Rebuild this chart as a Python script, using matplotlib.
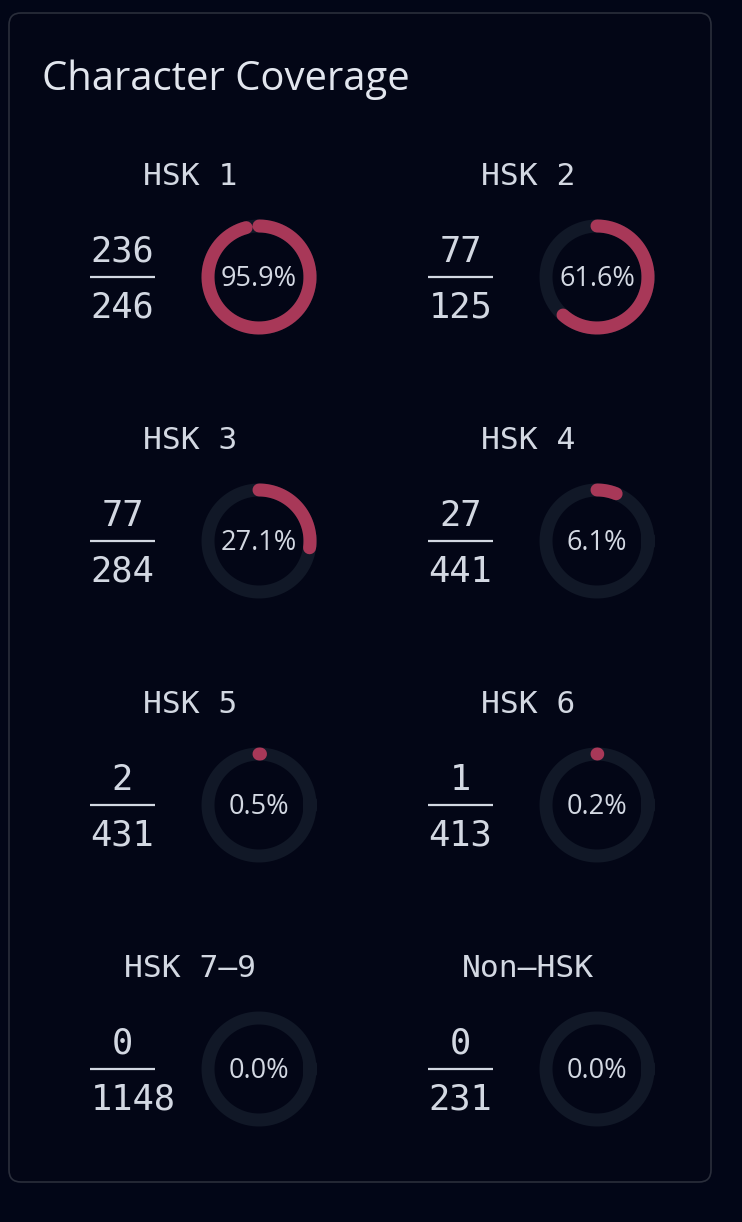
import numpy as np
import matplotlib
matplotlib.use("Agg")
import matplotlib.pyplot as plt
from matplotlib.patches import FancyBboxPatch

# data
labels = ["HSK 1", "HSK 2", "HSK 3", "HSK 4", "HSK 5", "HSK 6", "HSK 7–9", "Non–HSK"]
known = [236, 77, 77, 27, 2, 1, 0, 0]
totals = [246, 125, 284, 441, 431, 413, 1148, 231]

BG = "#020617"
PANEL = "#030616"
BORDER = "#2a2e3b"
TRACK = "#111827"
FILL = "#a83858"
TEXT = "#d3d8e2"

W, H = 742, 1222
fig = plt.figure(figsize=(W / 100, H / 100), dpi=100, facecolor=BG)
ax = fig.add_axes([0, 0, 1, 1])
ax.set_xlim(0, W)
ax.set_ylim(H, 0)
ax.axis("off")

panel = FancyBboxPatch((9, 13), 702, 1169, boxstyle="round,pad=0,rounding_size=12",
                       facecolor=PANEL, edgecolor=BORDER, linewidth=1.2)
ax.add_patch(panel)

ax.text(42, 90, "Character Coverage", fontsize=28.8, color="#e2e6ee",
        family="Open Sans", va="baseline", ha="left")

ring_r = 51
ring_lw = 13 * 0.72
theta = np.linspace(0, 2 * np.pi, 361)

for i, lab in enumerate(labels):
    col, row = i % 2, i // 2
    dx = col * 338
    dy = row * 264

    # title of the cell
    ax.text(190 + dx, 185 + dy, lab, fontsize=22.5, color=TEXT,
            family="DejaVu Sans Mono", ha="center", va="baseline")

    # fraction
    ax.text(122.5 + dx, 262 + dy, str(known[i]), fontsize=25.5, color=TEXT,
            family="DejaVu Sans Mono", ha="center", va="baseline")
    ax.plot([90 + dx, 155 + dx], [277 + dy, 277 + dy], color=TEXT, lw=1.6,
            solid_capstyle="butt")
    den = str(totals[i])
    if len(den) > 3:
        ax.text(91 + dx, 318 + dy, den, fontsize=25.5, color=TEXT,
                family="DejaVu Sans Mono", ha="left", va="baseline")
    else:
        ax.text(122.5 + dx, 318 + dy, den, fontsize=25.5, color=TEXT,
                family="DejaVu Sans Mono", ha="center", va="baseline")

    # ring
    cx, cy = 259 + dx, 277 + dy
    ax.plot(cx + ring_r * np.cos(theta), cy + ring_r * np.sin(theta),
            color=TRACK, lw=ring_lw)
    frac = known[i] / totals[i]
    if known[i] > 0:
        a = np.linspace(0, frac * 2 * np.pi, max(int(frac * 360), 2))
        ax.plot(cx + ring_r * np.sin(a), cy - ring_r * np.cos(a),
                color=FILL, lw=ring_lw, solid_capstyle="round")
    ax.text(cx, cy + 9.5, f"{frac * 100:.1f}%", fontsize=19.5, color=TEXT,
            family="Open Sans", ha="center", va="baseline")

fig.savefig("out.png", dpi=100, facecolor=BG)
